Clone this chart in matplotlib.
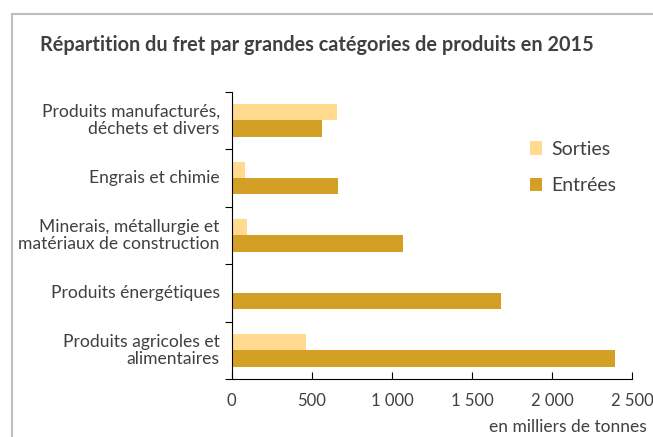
import numpy as np
import matplotlib.pyplot as plt
from matplotlib.patches import Rectangle

plt.rcParams["font.family"] = ["Lato", "DejaVu Sans"]

categories = [
    "Produits manufacturés,\ndéchets et divers",
    "Engrais et chimie",
    "Minerais, métallurgie et\nmatériaux de construction",
    "Produits énergétiques",
    "Produits agricoles et\nalimentaires",
]
sorties = [655, 81, 97, 0, 466]
entrees = [561, 661, 1067, 1682, 2393]
xticks = [0, 500, 1000, 1500, 2000, 2500]
xticklabels = ["0", "500", "1 000", "1 500", "2 000", "2 500"]

text_col = "#404040"
col_sorties = "#FFDA8F"
col_entrees = "#D39F25"

fig = plt.figure(figsize=(6.53, 4.37), dpi=100)
ax = fig.add_axes([0.3548, 0.1327, 0.6135, 0.6575])

# frame around the chart
fig.patches.append(Rectangle((12 / 653, -0.1), 1.1, (437 - 14) / 437 + 0.1,
                             transform=fig.transFigure, fill=False,
                             edgecolor="#BFBFBF", linewidth=1.5))

n = len(categories)
y = np.arange(n)[::-1].astype(float)
h = 0.285
ax.barh(y + h / 2, sorties, height=h, color=col_sorties, label="Sorties")
ax.barh(y - h / 2, entrees, height=h, color=col_entrees, label="Entrées")

ax.set_xlim(0, 2500)
ax.set_ylim(-0.5, n - 0.5)
ax.set_xticks(xticks)
ax.set_xticklabels(xticklabels, fontsize=12, color=text_col)
ax.tick_params(axis="x", direction="in", length=5, pad=10)

ax.set_yticks(np.arange(n + 1) - 0.5)
ax.set_yticklabels([])
ax.tick_params(axis="y", direction="out", length=5)
for yi, lab in zip(y, categories):
    ax.text(-0.03, (yi + 0.5) / n, lab, transform=ax.transAxes, ha="right",
            va="center", fontsize=12.6, color=text_col, linespacing=1.05)

for s in ["top", "right"]:
    ax.spines[s].set_visible(False)

fig.text(40 / 653, 1 - 45 / 437, "Répartition du fret par grandes catégories de produits en 2015",
         fontsize=14.3, fontweight="bold", color=text_col, va="center")
fig.text(647 / 653, 1 - 427 / 437, "en milliers de tonnes", fontsize=12.5,
         color=text_col, ha="right", va="center")

ax.legend(loc="upper left", bbox_to_anchor=(0.70, 0.89), frameon=False,
          fontsize=14, handlelength=0.65, handleheight=0.7, labelspacing=1.0,
          handletextpad=0.45, labelcolor=text_col)

fig.savefig("out.png", dpi=100)
